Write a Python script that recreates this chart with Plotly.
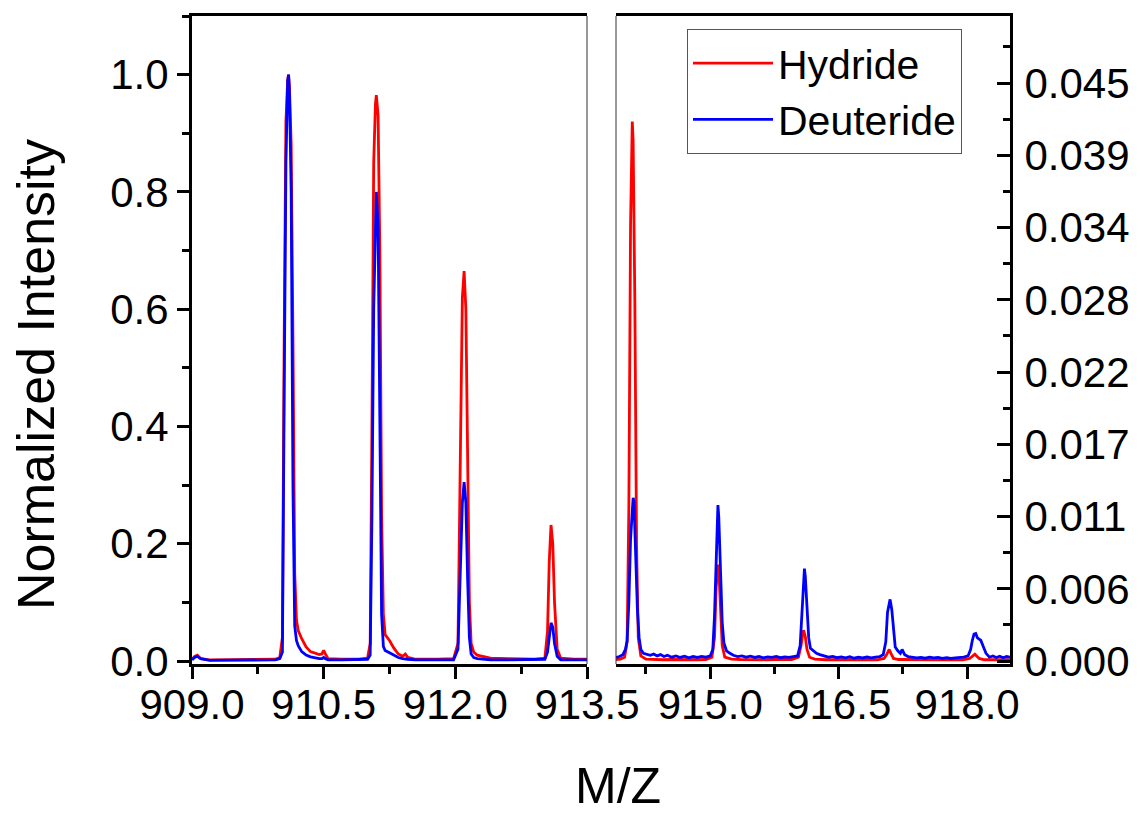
import plotly.graph_objects as go

# ---------------- data ----------------
mz_left = [
    909.00, 909.03, 909.06, 909.10, 909.20, 909.40, 909.60, 909.80, 909.95, 910.00,
    910.03, 910.05, 910.07, 910.09, 910.10, 910.11, 910.13, 910.15, 910.17, 910.19,
    910.21, 910.25, 910.30, 910.35, 910.40, 910.45, 910.48, 910.50, 910.52, 910.55,
    910.70, 910.90, 911.00, 911.03, 911.05, 911.07, 911.09, 911.10, 911.12, 911.14,
    911.16, 911.18, 911.20, 911.25, 911.30, 911.35, 911.40, 911.43, 911.46, 911.55,
    911.80, 911.98, 912.03, 912.06, 912.08, 912.10, 912.12, 912.14, 912.16, 912.18,
    912.21, 912.25, 912.30, 912.40, 912.60, 912.90, 913.02, 913.05, 913.07, 913.09,
    913.11, 913.13, 913.16, 913.20, 913.35, 913.50]

hydride_left = [
    0.003, 0.008, 0.010, 0.004, 0.002, 0.002, 0.002, 0.002, 0.003, 0.006,
    0.040, 0.55, 0.92, 0.99, 1.00, 0.98, 0.88, 0.55, 0.15, 0.07,
    0.052, 0.038, 0.024, 0.016, 0.013, 0.011, 0.012, 0.018, 0.012, 0.004,
    0.003, 0.003, 0.005, 0.03, 0.40, 0.85, 0.95, 0.965, 0.93, 0.70,
    0.25, 0.08, 0.045, 0.035, 0.022, 0.012, 0.008, 0.012, 0.006, 0.003,
    0.003, 0.004, 0.03, 0.35, 0.62, 0.665, 0.60, 0.35, 0.10, 0.03,
    0.015, 0.010, 0.008, 0.005, 0.004, 0.003, 0.005, 0.05, 0.17, 0.232,
    0.20, 0.10, 0.02, 0.005, 0.003, 0.003]

deuteride_left = [
    0.002, 0.006, 0.008, 0.004, 0.001, 0.001, 0.001, 0.001, 0.002, 0.004,
    0.015, 0.45, 0.85, 0.99, 1.00, 0.97, 0.80, 0.30, 0.06, 0.035,
    0.026, 0.016, 0.010, 0.007, 0.005, 0.004, 0.004, 0.006, 0.004, 0.002,
    0.002, 0.002, 0.003, 0.01, 0.25, 0.60, 0.78, 0.80, 0.74, 0.40,
    0.08, 0.025, 0.018, 0.014, 0.010, 0.006, 0.004, 0.004, 0.003, 0.002,
    0.002, 0.002, 0.02, 0.15, 0.27, 0.305, 0.27, 0.14, 0.04, 0.012,
    0.006, 0.004, 0.003, 0.002, 0.002, 0.002, 0.003, 0.015, 0.045, 0.065,
    0.058, 0.030, 0.008, 0.002, 0.002, 0.002]

mz_h_right = [
    913.90, 913.95, 914.00, 914.03, 914.05, 914.07, 914.09, 914.10, 914.12, 914.14,
    914.16, 914.19, 914.25, 914.35, 914.45, 914.55, 914.65, 914.75, 914.85, 914.95,
    915.02, 915.05, 915.07, 915.09, 915.10, 915.12, 915.14, 915.17, 915.25, 915.35,
    915.45, 915.55, 915.65, 915.75, 915.85, 915.95, 916.03, 916.06, 916.08, 916.09,
    916.11, 916.13, 916.16, 916.22, 916.35, 916.50, 916.65, 916.80, 916.95, 917.03,
    917.06, 917.08, 917.09, 917.11, 917.14, 917.20, 917.35, 917.50, 917.65, 917.80,
    917.95, 918.03, 918.06, 918.08, 918.09, 918.11, 918.14, 918.20, 918.35, 918.50]

hydride_right = [
    0.00012, 0.00015, 0.0003, 0.0015, 0.012, 0.034, 0.042, 0.0405, 0.028, 0.009,
    0.0018, 0.0004, 0.00015, 0.00012, 0.0001, 0.00012, 0.0001, 0.00013, 0.0001, 0.00012,
    0.0003, 0.0018, 0.0058, 0.0075, 0.0072, 0.0042, 0.0012, 0.0003, 0.00015, 0.00012,
    0.0001, 0.00012, 0.0001, 0.00012, 0.0001, 0.00012, 0.0003, 0.0012, 0.0021, 0.0024,
    0.0019, 0.0009, 0.0003, 0.00015, 0.0001, 0.00012, 0.0001, 0.00012, 0.0001, 0.0002,
    0.0005, 0.0008, 0.0009, 0.0006, 0.0002, 0.00012, 0.0001, 0.00012, 0.0001, 0.00012,
    0.0001, 0.0002, 0.0004, 0.0005, 0.00054, 0.0004, 0.0002, 0.0001, 0.0001, 0.0001]

mz_d_right = [
    913.90, 913.94, 913.98, 914.01, 914.03, 914.05, 914.07, 914.09, 914.10, 914.11,
    914.13, 914.15, 914.17, 914.19, 914.22, 914.26, 914.30, 914.34, 914.38, 914.42,
    914.46, 914.50, 914.55, 914.60, 914.65, 914.70, 914.75, 914.80, 914.85, 914.90,
    914.95, 915.00, 915.03, 915.05, 915.07, 915.08, 915.09, 915.10, 915.12, 915.14,
    915.16, 915.19, 915.23, 915.27, 915.32, 915.37, 915.42, 915.47, 915.52, 915.57,
    915.62, 915.67, 915.72, 915.77, 915.82, 915.87, 915.92, 915.97, 916.02, 916.05,
    916.07, 916.09, 916.10, 916.11, 916.13, 916.15, 916.17, 916.20, 916.24, 916.28,
    916.33, 916.38, 916.43, 916.48, 916.53, 916.58, 916.63, 916.68, 916.73, 916.78,
    916.83, 916.88, 916.93, 916.98, 917.02, 917.05, 917.07, 917.09, 917.10, 917.12,
    917.14, 917.16, 917.19, 917.22, 917.24, 917.27, 917.31, 917.36, 917.41, 917.46,
    917.51, 917.56, 917.61, 917.66, 917.71, 917.76, 917.81, 917.86, 917.91, 917.96,
    918.01, 918.04, 918.06, 918.08, 918.10, 918.12, 918.14, 918.16, 918.19, 918.22,
    918.26, 918.30, 918.34, 918.38, 918.42, 918.46, 918.50]

deuteride_right = [
    0.00028, 0.00035, 0.0005, 0.0009, 0.0016, 0.0045, 0.0095, 0.0122, 0.0127, 0.0124,
    0.0085, 0.0040, 0.0018, 0.0009, 0.0006, 0.00052, 0.00045, 0.00055, 0.0004, 0.0005,
    0.00035, 0.00045, 0.0003, 0.0004, 0.00028, 0.00038, 0.00025, 0.00035, 0.00028, 0.00036,
    0.0003, 0.0004, 0.0009, 0.0035, 0.0090, 0.0115, 0.01215, 0.0112, 0.0068, 0.0030,
    0.0014, 0.0008, 0.0006, 0.00045, 0.00035, 0.0004, 0.0003, 0.00038, 0.00028, 0.00035,
    0.00025, 0.00033, 0.00028, 0.00036, 0.00026, 0.00032, 0.00028, 0.00035, 0.0004, 0.0012,
    0.0040, 0.0068, 0.0072, 0.0066, 0.0042, 0.0018, 0.0010, 0.0008, 0.0006, 0.0005,
    0.00038, 0.0003, 0.00036, 0.00026, 0.00032, 0.00025, 0.00034, 0.00022, 0.0003, 0.00024,
    0.00032, 0.00025, 0.0003, 0.00035, 0.0005, 0.0015, 0.0038, 0.0047, 0.0048, 0.0040,
    0.0022, 0.0011, 0.0008, 0.0006, 0.0009, 0.0005, 0.00035, 0.0003, 0.00025, 0.00028,
    0.00022, 0.0003, 0.00024, 0.00028, 0.0002, 0.00026, 0.0002, 0.00024, 0.00028, 0.0003,
    0.0004, 0.0009, 0.0016, 0.0021, 0.00215, 0.0018, 0.0017, 0.0016, 0.0011, 0.0006,
    0.0003, 0.0004, 0.00028, 0.00038, 0.00025, 0.00035, 0.0003]

right_tick_labels = ["0.000", "0.006", "0.011", "0.017", "0.022",
                     "0.028", "0.034", "0.039", "0.045"]
right_tick_step = 0.045 / 8
series_names = ["Hydride", "Deuteride"]

# ---------------- figure ----------------
RED = "#FF0000"
BLUE = "#0000FF"
FONT = "Liberation Sans, Arial, sans-serif"

fig = go.Figure()
fig.add_trace(go.Scatter(x=mz_left, y=hydride_left, mode="lines", name=series_names[0],
                         legendgroup="h", line=dict(color=RED, width=2.8),
                         xaxis="x", yaxis="y"))
fig.add_trace(go.Scatter(x=mz_h_right, y=hydride_right, mode="lines", name=series_names[0],
                         legendgroup="h", showlegend=False, line=dict(color=RED, width=2.8),
                         xaxis="x2", yaxis="y2"))
fig.add_trace(go.Scatter(x=mz_left, y=deuteride_left, mode="lines", name=series_names[1],
                         legendgroup="d", line=dict(color=BLUE, width=2.8),
                         xaxis="x", yaxis="y"))
fig.add_trace(go.Scatter(x=mz_d_right, y=deuteride_right, mode="lines", name=series_names[1],
                         legendgroup="d", showlegend=False, line=dict(color=BLUE, width=2.8),
                         xaxis="x2", yaxis="y2"))

W, H = 1140, 813
ydom = [1 - 664 / H, 1 - 16 / H]
tickfont = dict(family=FONT, size=42, color="black")

common_x = dict(showline=True, linewidth=3, linecolor="black", mirror=True,
                ticks="outside", ticklen=12, tickwidth=2.5, tickcolor="black",
                tick0=909, dtick=1.5, tickformat=".1f", tickfont=tickfont,
                ticklabelstandoff=-10,
                showgrid=False, zeroline=False, automargin=False,
                minor=dict(ticks="outside", tick0=909, dtick=0.75, ticklen=7,
                           tickwidth=2.5, tickcolor="black", showgrid=False))

fig.update_layout(
    width=W, height=H, autosize=False,
    margin=dict(l=0, r=0, t=0, b=0, pad=0),
    paper_bgcolor="white", plot_bgcolor="white",
    font=dict(family=FONT, color="black"),
    xaxis=dict(domain=[192 / W, 587 / W], range=[909, 913.5], anchor="y", **common_x),
    xaxis2=dict(domain=[616 / W, 1010 / W], range=[913.9, 918.5], anchor="y2", **common_x),
    yaxis=dict(domain=ydom, range=[-0.0051, 1.1], anchor="x",
               showline=True, linewidth=3, linecolor="black",
               ticks="outside", ticklen=12, tickwidth=2.5, tickcolor="black",
               tick0=0, dtick=0.2, tickformat=".1f", tickfont=tickfont,
               showgrid=False, zeroline=False, automargin=False,
               minor=dict(ticks="outside", dtick=0.1, ticklen=7, tickwidth=2.5,
                          tickcolor="black", showgrid=False)),
    yaxis2=dict(domain=ydom, range=[-0.00023, 0.05022], anchor="x2", side="right",
                showline=True, linewidth=3, linecolor="black",
                ticks="inside", ticklen=13, tickwidth=2.5, tickcolor="black",
                tickvals=[i * right_tick_step for i in range(len(right_tick_labels))],
                ticktext=right_tick_labels, tickfont=tickfont, ticklabelstandoff=3,
                showgrid=False, zeroline=False, automargin=False,
                minor=dict(ticks="inside", ticklen=7, tickwidth=2.5, tickcolor="black",
                           tickvals=[(i + 0.5) * right_tick_step
                                     for i in range(len(right_tick_labels))],
                           showgrid=False)),
    legend=dict(x=687 / W, y=1 - 29 / H, xanchor="left", yanchor="top",
                font=dict(family=FONT, size=41, color="black"),
                bgcolor="rgba(255,255,255,0)", bordercolor="#555555", borderwidth=1,
                itemwidth=80, tracegroupgap=0),
    showlegend=True,
)

# thin inner borders between the two panels
fig.add_shape(type="line", xref="x domain", yref="y domain", x0=1, x1=1, y0=0, y1=1,
              line=dict(color="#333333", width=1))
fig.add_shape(type="line", xref="x2 domain", yref="y2 domain", x0=0, x1=0, y0=0, y1=1,
              line=dict(color="#333333", width=1))

fig.add_annotation(text="Normalized Intensity", xref="paper", yref="paper",
                   x=36 / W, y=1 - 375 / H, textangle=-90, showarrow=False,
                   xanchor="center", yanchor="middle",
                   font=dict(family=FONT, size=52, color="black"))
fig.add_annotation(text="M/Z", xref="paper", yref="paper",
                   x=618 / W, y=1 - 786 / H, showarrow=False,
                   xanchor="center", yanchor="middle",
                   font=dict(family=FONT, size=50, color="black"))

fig.write_html("out.html",
               config={"displayModeBar": False},
               post_script="document.body.style.margin='0px';"
                           "document.body.style.overflow='hidden';")
